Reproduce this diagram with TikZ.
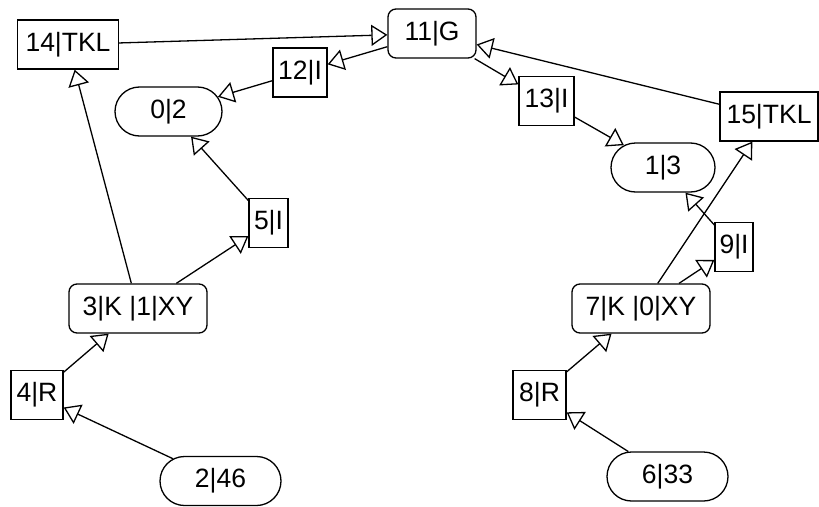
\documentclass[tikz,border=0pt]{standalone}
\usepackage{fontspec}
\setmainfont{Liberation Sans}
\usetikzlibrary{arrows.meta,shapes.misc}
\begin{document}
\begin{tikzpicture}[x=1pt,y=-1pt,
  every node/.style={inner sep=0pt,font=\fontsize{26.5}{30}\selectfont,line width=1.3pt},
  rbox/.style={draw,rectangle,minimum height=49pt},
  gbox/.style={draw,rectangle,rounded corners=8pt,minimum height=49pt},
  sbox/.style={draw,rounded rectangle,minimum height=49pt},
  arr/.style={line width=1.3pt,-{Triangle[open,length=16pt,width=21pt,line width=1.3pt]}}]
\useasboundingbox (0,0) rectangle (819,506);
\node[rbox,minimum width=101pt] (n14) at (68,44.5) {14|TKL};
\node[gbox,minimum width=88pt] (n11) at (432,33.5) {11|G};
\node[rbox,minimum width=54pt] (n12) at (300,72.5) {12|I};
\node[sbox,minimum width=107pt] (n0) at (168.5,111.5) {0|2};
\node[rbox,minimum width=55pt] (n13) at (546.5,101) {13|I};
\node[rbox,minimum width=98pt] (n15) at (769,116.5) {15|TKL};
\node[sbox,minimum width=104pt] (n1) at (663,167.5) {1|3};
\node[rbox,minimum width=39pt] (n5) at (268.5,223) {5|I};
\node[rbox,minimum width=38pt] (n9) at (734,247) {9|I};
\node[gbox,minimum width=138pt] (n3) at (138,308.5) {3|K |1|XY};
\node[gbox,minimum width=138pt] (n7) at (641,308.5) {7|K |0|XY};
\node[rbox,minimum width=52pt] (n4) at (37,395) {4|R};
\node[rbox,minimum width=53pt] (n8) at (539.5,395) {8|R};
\node[sbox,minimum width=121pt] (n2) at (220.5,481) {2|46};
\node[sbox,minimum width=121pt] (n6) at (667.5,476.5) {6|33};
\draw[arr] (n14) -- (n11);
\draw[arr] (n11) -- (n12);
\draw[arr] (n12) -- (n0);
\draw[arr] (n11) -- (n13);
\draw[arr] (n13) -- (n1);
\draw[arr] (n15) -- (n11);
\draw[arr] (n5) -- (n0);
\draw[arr] (n3) -- (n5);
\draw[arr] (n3) -- (n14);
\draw[arr] (n4) -- (n3);
\draw[arr] (n2) -- (n4);
\draw[arr] (n9) -- (n1);
\draw[arr] (n7) -- (n9);
\draw[arr] (n7) -- (n15);
\draw[arr] (n8) -- (n7);
\draw[arr] (n6) -- (n8);
\end{tikzpicture}
\end{document}
